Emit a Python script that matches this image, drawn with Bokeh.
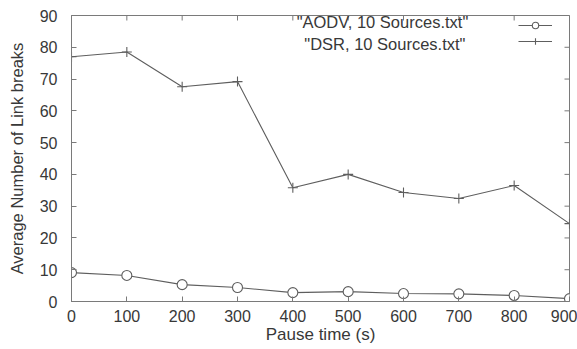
import math
from bokeh.plotting import figure
from bokeh.models import Range1d, Legend, LegendItem, Label, FixedTicker
from bokeh.embed import file_html
from bokeh.resources import INLINE

pause = [0, 100, 200, 300, 400, 500, 600, 700, 800, 900]
aodv = [9.1, 8.2, 5.3, 4.4, 2.8, 3.1, 2.5, 2.4, 1.9, 0.9]
dsr = [77.0, 78.5, 67.6, 69.2, 35.8, 40.0, 34.3, 32.4, 36.5, 24.5]
x_ticks = [0, 100, 200, 300, 400, 500, 600, 700, 800, 900]
y_ticks = [0, 10, 20, 30, 40, 50, 60, 70, 80, 90]
names = ['"AODV, 10 Sources.txt"', '"DSR, 10 Sources.txt"']
x_title = "Pause time (s)"
y_title = "Average Number of Link breaks"

FONT = "Liberation Sans"
TXT = "#383838"
LINE = "#5e5e5e"
FRAME = "#7a7a7a"

p = figure(width=577, height=349, output_backend="svg", toolbar_location=None,
           x_range=Range1d(x_ticks[0], x_ticks[-1]), y_range=Range1d(y_ticks[0], y_ticks[-1]),
           min_border_left=71, min_border_top=15, min_border_bottom=48, min_border_right=8)
p.grid.visible = False
p.outline_line_color = FRAME
p.background_fill_color = "white"
p.border_fill_color = "white"

for ax in (p.xaxis[0], p.yaxis[0]):
    ax.major_tick_in = 5
    ax.major_tick_out = 0
    ax.minor_tick_line_color = None
    ax.axis_line_color = FRAME
    ax.major_tick_line_color = FRAME
    ax.major_label_text_font = FONT
    ax.major_label_text_font_size = "16px"
    ax.major_label_text_color = TXT
    ax.axis_label_text_font = FONT
    ax.axis_label_text_font_style = "normal"
    ax.axis_label_text_color = TXT

p.xaxis.ticker = FixedTicker(ticks=x_ticks)
p.yaxis.ticker = FixedTicker(ticks=y_ticks)
p.xaxis.axis_label = x_title
p.xaxis.axis_label_text_font_size = "17px"
p.xaxis.major_label_standoff = 8
p.xaxis.axis_label_standoff = 0
p.yaxis.axis_label = y_title
p.yaxis.axis_label_text_font_size = "16.5px"
p.yaxis.major_label_standoff = 14
p.yaxis.axis_label_standoff = 11

# mirrored inward ticks on the top and right edges (clipped to the frame)
p.scatter(x_ticks, [y_ticks[-1]] * len(x_ticks), marker="dash", angle=math.pi / 2,
          size=10, line_color=FRAME, line_width=1)
p.scatter([x_ticks[-1]] * len(y_ticks), y_ticks, marker="dash",
          size=10, line_color=FRAME, line_width=1)

r1 = p.line(pause, aodv, line_color=LINE, line_width=1.1)
m1 = p.scatter(pause, aodv, marker="circle", size=10, fill_color="white",
               line_color=LINE, line_width=1.1)
r2 = p.line(pause, dsr, line_color=LINE, line_width=1.1)
m2 = p.scatter(pause, dsr, marker="cross", size=10, line_color=LINE, line_width=1.1)

leg = Legend(items=[LegendItem(label=" ", renderers=[r1, m1]),
                    LegendItem(label=" ", renderers=[r2, m2])],
             location="top_right", glyph_width=34, glyph_height=16, label_height=16,
             label_width=15, label_standoff=0, spacing=0, padding=0, margin=2,
             background_fill_alpha=0, border_line_color=None,
             label_text_font_size="10px")
p.add_layout(leg)

p.add_layout(Label(x=717, y=88.1, text=names[0], text_align="right", text_baseline="middle",
                   text_font=FONT, text_font_size="16.5px", text_color=TXT))
p.add_layout(Label(x=712, y=80.9, text=names[1], text_align="right", text_baseline="middle",
                   text_font=FONT, text_font_size="16.5px", text_color=TXT))

open("out.html", "w").write(file_html(p, INLINE))
